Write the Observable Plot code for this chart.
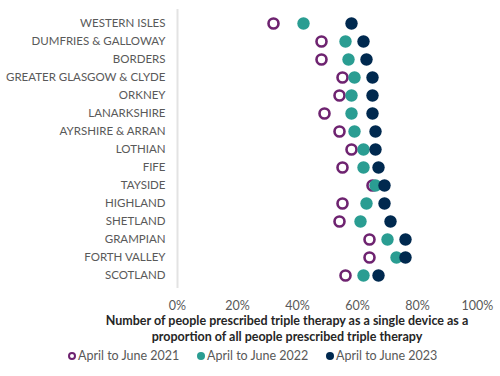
<!DOCTYPE html>
<html>
<head>
<meta charset="utf-8">
<script src="https://cdn.jsdelivr.net/npm/d3@7"></script>
<script src="https://cdn.jsdelivr.net/npm/@observablehq/plot@0.6"></script>
<style>
  body { margin: 0; background: #fff; font-family: Lato, "Open Sans", sans-serif; }
  #chart { width: 500px; height: 376px; position: relative; }
  #title { position: absolute; left: 74px; width: 426px; top: 313px; text-align: center;
           font-weight: bold; font-size: 12.5px; line-height: 15.6px; color: #262626; }
  #legend { position: absolute; top: 348px; left: 68px; font-size: 12.5px; color: #595959; }
  .item { position: absolute; white-space: nowrap; display: flex; align-items: center; }
  .mk { display: inline-block; width: 8px; height: 8px; border-radius: 50%; margin-right: 2px; box-sizing: border-box; }
</style>
</head>
<body>
<div id="chart">
  <div id="plot"></div>
  <div id="title">Number of people prescribed triple therapy as a single device as a<br>proportion of all people prescribed triple therapy</div>
  <div id="legend"></div>
</div>
<script>
const regions = ["WESTERN ISLES","DUMFRIES & GALLOWAY","BORDERS","GREATER GLASGOW & CLYDE","ORKNEY","LANARKSHIRE","AYRSHIRE & ARRAN","LOTHIAN","FIFE","TAYSIDE","HIGHLAND","SHETLAND","GRAMPIAN","FORTH VALLEY","SCOTLAND"];
const y2021 = [32, 48, 48, 55, 54, 49, 54, 58, 55, 65, 55, 54, 64, 64, 56];
const y2022 = [42, 56, 57, 59, 58, 58, 59, 62, 62, 66, 63, 61, 70, 73, 62];
const y2023 = [58, 62, 63, 65, 65, 65, 66, 66, 67, 69, 69, 71, 76, 76, 67];
const seriesNames = ["April to June 2021", "April to June 2022", "April to June 2023"];
const colors = ["#6E2370", "#2A9D92", "#00294F"];
const xTicks = [0, 20, 40, 60, 80, 100];

const rows = (vals) => regions.map((r, i) => ({region: r, value: vals[i]}));

const plot = Plot.plot({
  width: 500,
  height: 312,
  marginLeft: 177,
  marginRight: 23,
  marginTop: 9,
  marginBottom: 24,
  style: {fontFamily: "Lato, 'Open Sans', sans-serif", fontSize: "12.5px", color: "#595959", background: "#fff"},
  x: {domain: [0, 100], label: null},
  y: {domain: regions, label: null},
  marks: [
    Plot.axisX({ticks: xTicks, tickFormat: d => d + "%", tickSize: 0, tickPadding: 13, fontSize: 12.5, fill: "#595959", label: null}),
    Plot.axisY({tickSize: 0, tickPadding: 12, fontSize: 11.5, fill: "#595959", label: null}),
    Plot.ruleX([0], {stroke: "#e3e3e3", strokeWidth: 2}),
    Plot.dot(rows(y2021), {x: "value", y: "region", r: 5, stroke: colors[0], strokeWidth: 2.6, fill: "white"}),
    Plot.dot(rows(y2022), {x: "value", y: "region", r: 6.2, fill: colors[1]}),
    Plot.dot(rows(y2023), {x: "value", y: "region", r: 6.2, fill: colors[2]})
  ]
});
document.getElementById("plot").appendChild(plot);

const legend = document.getElementById("legend");
seriesNames.forEach((name, i) => {
  const it = document.createElement("div");
  it.className = "item";
  it.style.left = (i * 129) + "px";
  const mk = document.createElement("span");
  mk.className = "mk";
  if (i === 0) { mk.style.border = "2px solid " + colors[0]; mk.style.background = "#fff"; }
  else mk.style.background = colors[i];
  it.appendChild(mk);
  it.appendChild(document.createTextNode(name));
  legend.appendChild(it);
});
</script>
</body>
</html>
